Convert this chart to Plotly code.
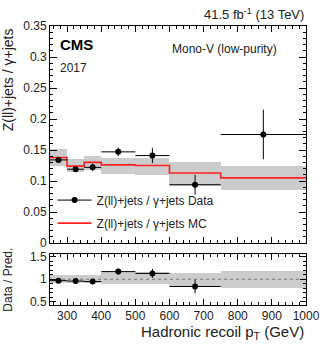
import plotly.graph_objects as go

# binning (hadronic recoil pT, GeV)
bin_lo = [250, 300, 350, 400, 500, 600, 750]
bin_hi = [300, 350, 400, 500, 600, 750, 1000]

# Z(ll)+jets / gamma+jets ratio
data_val = [0.134, 0.119, 0.122, 0.147, 0.141, 0.094, 0.175]
data_err = [0.005, 0.004, 0.006, 0.007, 0.012, 0.016, 0.040]
mc_val = [0.138, 0.124, 0.130, 0.126, 0.125, 0.113, 0.105]
band_lo = [0.125, 0.114, 0.118, 0.112, 0.110, 0.092, 0.085]
band_hi = [0.151, 0.136, 0.141, 0.137, 0.137, 0.130, 0.125]

# data / prediction (last bin is off scale in the ratio panel)
ratio_val = [0.97, 0.96, 0.95, 1.17, 1.13, 0.84, None]
ratio_err = [0.05, 0.04, 0.05, 0.07, 0.10, 0.15, 0]
ratio_band_lo = [0.91, 0.91, 0.91, 0.90, 0.89, 0.84, 0.81]
ratio_band_hi = [1.10, 1.10, 1.10, 1.16, 1.16, 1.14, 1.19]

centers = [(a + b) / 2 for a, b in zip(bin_lo, bin_hi)]
halfw = [(b - a) / 2 for a, b in zip(bin_lo, bin_hi)]
widths = [b - a for a, b in zip(bin_lo, bin_hi)]

FONT = "Liberation Sans, Arial, sans-serif"
BAND = "#cccccc"

fig = go.Figure()

# uncertainty band (main)
fig.add_trace(go.Bar(
    x=centers, y=[h - l for l, h in zip(band_lo, band_hi)], base=band_lo,
    width=widths, marker=dict(color=BAND, line=dict(width=0)),
    showlegend=False, hoverinfo="skip", xaxis="x", yaxis="y"))

# MC step line
fig.add_trace(go.Scatter(
    x=bin_lo + [bin_hi[-1]], y=mc_val + [mc_val[-1]], mode="lines",
    line=dict(color="#ff2020", width=1.6, shape="hv"),
    showlegend=False, xaxis="x", yaxis="y"))

# data points
fig.add_trace(go.Scatter(
    x=centers, y=data_val, mode="markers",
    marker=dict(color="black", size=6),
    error_x=dict(type="data", array=halfw, color="black", thickness=1, width=0),
    error_y=dict(type="data", array=data_err, color="black", thickness=1, width=0),
    showlegend=False, xaxis="x", yaxis="y"))

# legend entries
fig.add_trace(go.Scatter(
    x=[None], y=[None], mode="lines+markers", name="Z(ll)+jets / \u03b3+jets Data",
    marker=dict(color="black", size=6), line=dict(color="black", width=1),
    legendgroup="a", xaxis="x", yaxis="y"))
fig.add_trace(go.Scatter(
    x=[None], y=[None], mode="lines", name="Z(ll)+jets / \u03b3+jets MC",
    line=dict(color="#ff2020", width=1.6), legendgroup="b", xaxis="x", yaxis="y"))

# ratio band
fig.add_trace(go.Bar(
    x=centers, y=[h - l for l, h in zip(ratio_band_lo, ratio_band_hi)], base=ratio_band_lo,
    width=widths, marker=dict(color=BAND, line=dict(width=0)),
    showlegend=False, hoverinfo="skip", xaxis="x2", yaxis="y2"))

# dotted line at 1
fig.add_trace(go.Scatter(
    x=[250, 1000], y=[1, 1], mode="lines",
    line=dict(color="#777777", width=1.2, dash="dot"),
    showlegend=False, xaxis="x2", yaxis="y2"))

fig.add_trace(go.Scatter(
    x=centers, y=ratio_val, mode="markers",
    marker=dict(color="black", size=6),
    error_x=dict(type="data", array=halfw, color="black", thickness=1, width=0),
    error_y=dict(type="data", array=ratio_err, color="black", thickness=1, width=0),
    showlegend=False, xaxis="x2", yaxis="y2"))

axis_common = dict(
    showline=True, linecolor="black", linewidth=1, mirror="ticks",
    ticks="inside", tickcolor="black", showgrid=False, zeroline=False,
    tickfont=dict(family=FONT, size=12, color="#222"),
)

fig.update_layout(
    width=332, height=347,
    margin=dict(l=50, r=20, t=26, b=42),
    paper_bgcolor="white", plot_bgcolor="white",
    font=dict(family=FONT, color="#222"),
    barmode="overlay", bargap=0,
    xaxis=dict(domain=[0, 1], range=[250, 1000], anchor="y", showticklabels=False,
               dtick=100, tick0=0, ticklen=6,
               minor=dict(dtick=20, ticklen=3, ticks="inside", tickcolor="black"),
               **axis_common),
    yaxis=dict(domain=[0.2222, 1], range=[0, 0.35], anchor="x", dtick=0.05, ticklen=7,
               tickformat="~g",
               minor=dict(dtick=0.01, ticklen=3, ticks="inside", tickcolor="black"),
               **axis_common),
    xaxis2=dict(domain=[0, 1], range=[250, 1000], anchor="y2", matches="x",
                dtick=100, tick0=0, ticklen=6,
                minor=dict(dtick=20, ticklen=3, ticks="inside", tickcolor="black"),
                **axis_common),
    yaxis2=dict(domain=[0, 0.1828], range=[0.43, 1.56], anchor="x2",
                tickvals=[0.5, 1, 1.5], ticktext=["0.5", "1", "1.5"], ticklen=6,
                minor=dict(dtick=0.1, ticklen=3, ticks="inside", tickcolor="black"),
                **axis_common),
    legend=dict(x=0.01, y=0.428, xanchor="left", yanchor="top",
                bgcolor="rgba(0,0,0,0)", font=dict(family=FONT, size=12, color="#222"),
                itemwidth=34, traceorder="grouped", tracegroupgap=4),
)

annotations = [
    dict(text="<b>CMS</b>", x=0.03, y=0.932, xref="paper", yref="paper",
         xanchor="left", yanchor="middle", showarrow=False, font=dict(family=FONT, size=15, color="black")),
    dict(text="2017", x=0.03, y=0.85, xref="paper", yref="paper",
         xanchor="left", yanchor="middle", showarrow=False, font=dict(family=FONT, size=12, color="#222")),
    dict(text="Mono-V (low-purity)", x=0.895, y=0.918, xref="paper", yref="paper",
         xanchor="right", yanchor="middle", showarrow=False, font=dict(family=FONT, size=12, color="#222")),
    dict(text="41.5 fb<sup>-1</sup> (13 TeV)", x=1.0, y=1.0, xref="paper", yref="paper",
         xanchor="right", yanchor="bottom", yshift=2, showarrow=False, font=dict(family=FONT, size=13, color="#222")),
    dict(text="Z(ll)+jets / \u03b3+jets", x=-0.165, y=1.0, xref="paper", yref="paper",
         xanchor="center", yanchor="top", textangle=-90, showarrow=False,
         font=dict(family=FONT, size=14, color="#222")),
    dict(text="Data / Pred.", x=-0.165, y=0.09, xref="paper", yref="paper",
         xanchor="center", yanchor="middle", textangle=-90, showarrow=False,
         font=dict(family=FONT, size=12, color="#222")),
    dict(text="Hadronic recoil p<sub>T</sub> (GeV)", x=1.0, y=-0.058, xref="paper", yref="paper",
         xanchor="right", yanchor="top", showarrow=False, font=dict(family=FONT, size=15, color="#222")),
]
fig.update_layout(annotations=annotations)

# drop the default body margin so the figure sits at the window corner
fig.write_html("out.html", config={"displayModeBar": False},
               post_script="document.body.style.margin='0';")
